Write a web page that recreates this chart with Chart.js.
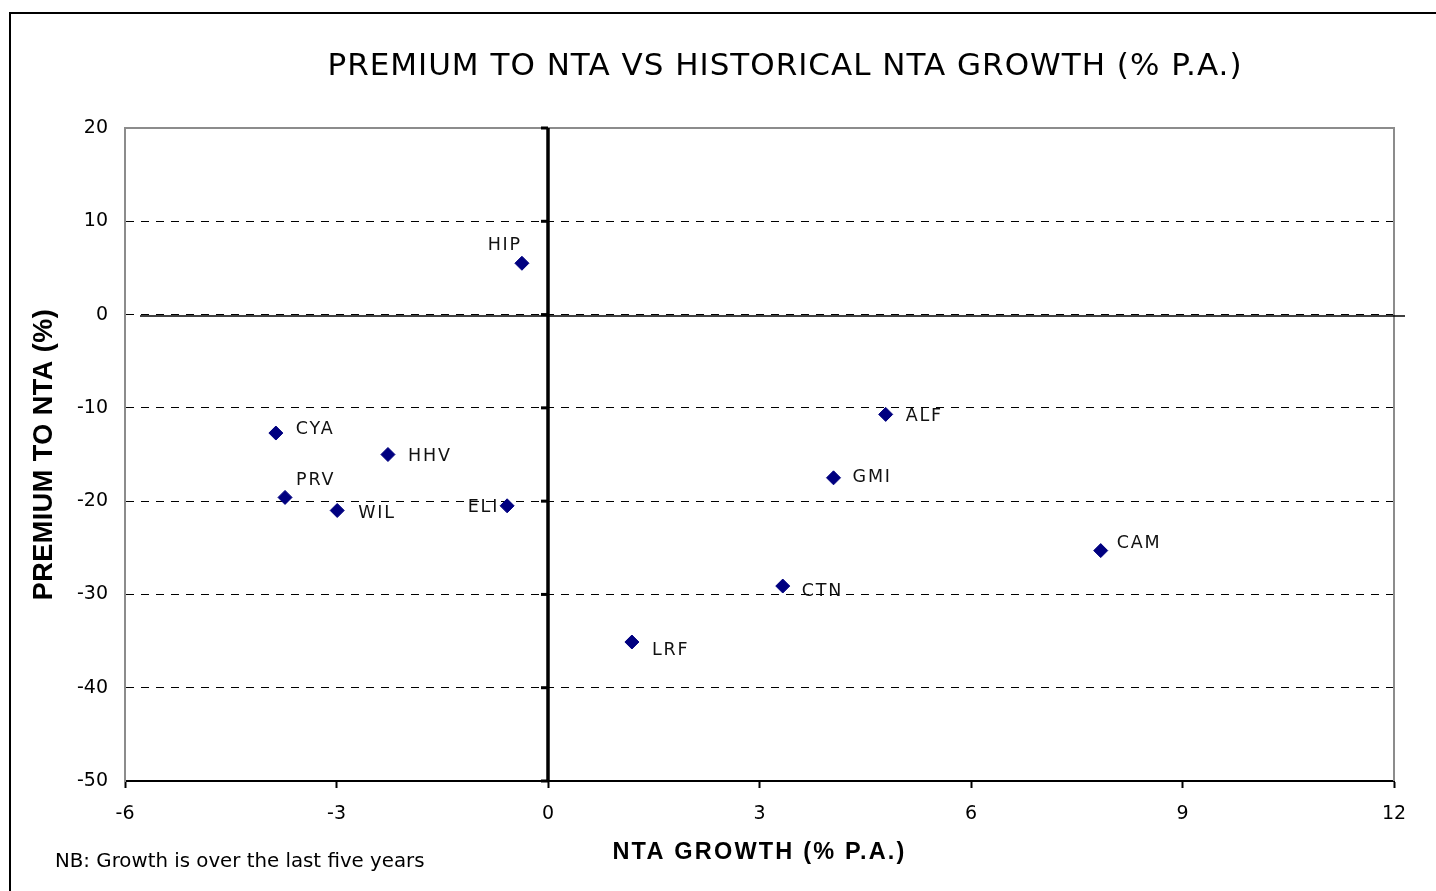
<!DOCTYPE html>
<html><head><meta charset="utf-8">
<script src="https://cdn.jsdelivr.net/npm/chart.js@4.4.0/dist/chart.umd.min.js"></script>
<style>html,body{margin:0;padding:0;background:#fff;overflow:hidden}canvas{display:block}</style>
</head><body>
<canvas id="c" width="1436" height="891"></canvas>
<script>
// ---- data ----
const companies    = ['HIP', 'CYA', 'HHV', 'PRV', 'WIL', 'ELI', 'ALF', 'GMI', 'CAM', 'CTN', 'LRF'];
const ntaGrowth    = [-0.37, -3.86, -2.27, -3.73, -2.99, -0.58, 4.79, 4.05, 7.84, 3.33, 1.19];
const premiumToNta = [5.5, -12.7, -15.0, -19.6, -21.0, -20.5, -10.7, -17.5, -25.3, -29.1, -35.1];
const xTickValues  = [-6, -3, 0, 3, 6, 9, 12];
const yTickValues  = [20, 10, 0, -10, -20, -30, -40, -50];
const chartTitle   = 'PREMIUM TO NTA VS HISTORICAL NTA GROWTH (% P.A.)';
const xAxisTitle   = 'NTA GROWTH (% P.A.)';
const yAxisTitle   = 'PREMIUM TO NTA (%)';
const footNote     = 'NB: Growth is over the last five years';

// ---- label placement (style config) ----
const labelPlacement = {
  HIP: {dx: 0, dy: -18, align: 'right'},
  CYA: {dx: 20, dy: -4, align: 'left'},
  HHV: {dx: 20, dy: 2, align: 'left'},
  PRV: {dx: 11, dy: -17, align: 'left'},
  WIL: {dx: 21, dy: 3, align: 'left'},
  ELI: {dx: -8, dy: 2, align: 'right'},
  ALF: {dx: 20, dy: 2, align: 'left'},
  GMI: {dx: 19, dy: 0, align: 'left'},
  CAM: {dx: 16, dy: -7, align: 'left'},
  CTN: {dx: 19, dy: 5, align: 'left'},
  LRF: {dx: 20, dy: 8, align: 'left'}
};

const FONT = '"DejaVu Sans", Verdana, sans-serif';
const BOLD = '"Liberation Sans", Arial, sans-serif';

function drawText(ctx, text, x, y, font, align, spacing) {
  ctx.save();
  ctx.font = font;
  ctx.textAlign = align;
  ctx.textBaseline = 'middle';
  ctx.letterSpacing = spacing + 'px';
  ctx.fillText(text, x, y);
  ctx.restore();
}

const decor = {
  id: 'decor',
  beforeDraw(chart) {
    const ctx = chart.ctx;
    ctx.save();
    ctx.fillStyle = '#fff';
    ctx.fillRect(0, 0, chart.width, chart.height);
    ctx.strokeStyle = '#000';
    ctx.lineWidth = 2;
    ctx.strokeRect(10, 13, 1600, 1200);
    ctx.restore();
  },
  beforeDatasetsDraw(chart) {
    const ctx = chart.ctx, a = chart.chartArea;
    const xs = chart.scales.x, ys = chart.scales.y;
    ctx.save();
    ctx.strokeStyle = '#8c8c8c';
    ctx.lineWidth = 2;
    ctx.beginPath();
    ctx.moveTo(a.left, a.top);
    ctx.lineTo(a.right, a.top);
    ctx.lineTo(a.right, a.bottom);
    ctx.stroke();
    const y0 = ys.getPixelForValue(0) + 1.5;
    ctx.strokeStyle = '#000';
    ctx.lineWidth = 1.5;
    ctx.beginPath();
    ctx.moveTo(a.left + 15, y0);
    ctx.lineTo(a.right + 11, y0);
    ctx.stroke();
    const x0 = xs.getPixelForValue(0);
    ctx.lineWidth = 3.5;
    ctx.beginPath();
    ctx.moveTo(x0, a.top);
    ctx.lineTo(x0, a.bottom);
    ctx.stroke();
    ctx.lineWidth = 3;
    yTickValues.forEach(v => {
      const py = ys.getPixelForValue(v);
      ctx.beginPath();
      ctx.moveTo(x0 - 7, py);
      ctx.lineTo(x0, py);
      ctx.stroke();
    });
    ctx.restore();
  },
  afterDraw(chart) {
    const ctx = chart.ctx, a = chart.chartArea;
    const meta = chart.getDatasetMeta(0);
    ctx.save();
    ctx.fillStyle = '#000';
    drawText(ctx, chartTitle, 785, 67, '31px ' + FONT, 'center', 1);
    drawText(ctx, footNote, 55, 862, '19.8px ' + FONT, 'left', 0);
    drawText(ctx, xAxisTitle, (a.left + a.right) / 2, 853, 'bold 23.5px ' + BOLD, 'center', 2.2);
    ctx.save();
    ctx.translate(45, (a.top + a.bottom) / 2);
    ctx.rotate(-Math.PI / 2);
    drawText(ctx, yAxisTitle, 0, 0, 'bold 27px ' + BOLD, 'center', 0.5);
    ctx.restore();
    ctx.fillStyle = '#111';
    meta.data.forEach((pt, i) => {
      const name = companies[i];
      const p = labelPlacement[name] || {dx: 20, dy: 0, align: 'left'};
      drawText(ctx, name, pt.x + p.dx, pt.y + p.dy, '17.5px ' + FONT, p.align, 1.8);
    });
    ctx.restore();
  }
};

new Chart(document.getElementById('c'), {
  type: 'scatter',
  data: {
    datasets: [{
      data: ntaGrowth.map((x, i) => ({x: x, y: premiumToNta[i]})),
      pointStyle: 'rectRot',
      radius: 7,
      hoverRadius: 7,
      backgroundColor: '#000080',
      borderColor: '#000080',
      borderWidth: 1
    }]
  },
  options: {
    responsive: false,
    animation: false,
    events: [],
    layout: {padding: {left: 0, top: 128, right: 42, bottom: 0}},
    plugins: {legend: {display: false}, tooltip: {enabled: false}, title: {display: false}},
    scales: {
      x: {
        type: 'linear',
        min: -6, max: 12,
        afterBuildTicks: s => { s.ticks = xTickValues.map(v => ({value: v})); },
        afterFit: s => { s.height = 110; },
        ticks: {font: {family: FONT, size: 19}, color: '#000', padding: 15, maxRotation: 0,
                callback: v => String(v)},
        grid: {drawOnChartArea: false, drawTicks: true, tickLength: 7, tickWidth: 2, tickColor: '#000', color: '#000'},
        border: {display: true, color: '#000', width: 2},
        title: {display: false}
      },
      y: {
        type: 'linear',
        min: -50, max: 20,
        afterBuildTicks: s => { s.ticks = yTickValues.map(v => ({value: v})); },
        afterFit: s => { s.width = 125; },
        ticks: {font: {family: FONT, size: 19}, color: '#000', padding: 17,
                callback: v => String(v)},
        grid: {drawTicks: false, lineWidth: 1,
               color: c => (c.tick && (c.tick.value === 20 || c.tick.value === -50)) ? 'rgba(0,0,0,0)' : '#000'},
        border: {display: true, color: '#8c8c8c', width: 2, dash: [8, 7]},
        title: {display: false}
      }
    }
  },
  plugins: [decor]
});
</script>
</body></html>
